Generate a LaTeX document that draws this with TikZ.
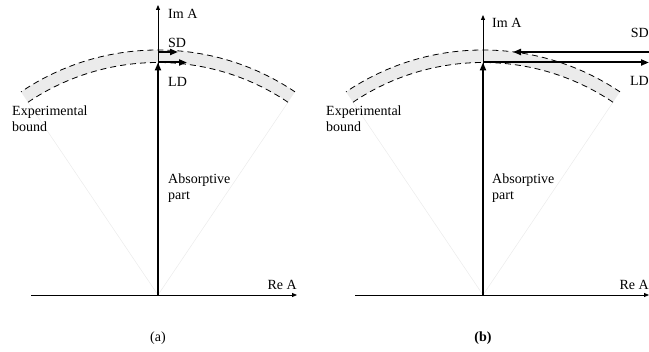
\documentclass[tikz,border=0pt]{standalone}
\usepackage{fontspec}
\setmainfont{Liberation Serif}
\usetikzlibrary{arrows.meta,calc}
\tikzset{
  axis/.style={line width=0.8pt,-{Triangle[length=5pt,width=4pt]}},
  thickarrow/.style={line width=2pt,-{Triangle[length=8pt,width=6pt]}},
  bound/.style={dashed,dash pattern=on 6pt off 4pt,line width=0.8pt},
  band/.style={fill=black!8},
  faint/.style={draw=black!8,line width=0.5pt},
  lbl/.style={font=\fontsize{14}{16}\selectfont,inner sep=0pt,align=left},
}
\begin{document}
\begin{tikzpicture}[x=1pt,y=1pt]
\useasboundingbox (0,0) rectangle (649,352);
\def\Ro{245}
\def\Ri{232.5}
% ---------------- panel (a) ----------------
\coordinate (Oa) at (158,57);
\coordinate (ImTopA) at (158,347);
\coordinate (ReLeftA) at (31,57);
\coordinate (ReRightA) at (297,57);
\coordinate (TopInA) at (158,289.5);
\coordinate (SDsA) at (158,300);
\coordinate (SDeA) at (178,300);
\coordinate (LDeA) at (187,289.5);
\coordinate (ILA) at ($(Oa)+(124:\Ri)$);
\coordinate (IRA) at ($(Oa)+(56:\Ri)$);
\fill[band] ($(Oa)+(56:\Ro)$) arc[start angle=56,end angle=124,radius=\Ro]
   -- (ILA) arc[start angle=124,end angle=56,radius=\Ri] -- cycle;
\draw[faint] (Oa) -- (ILA);
\draw[faint] (Oa) -- (IRA);
\draw[bound] ($(Oa)+(56:\Ro)$) arc[start angle=56,end angle=124,radius=\Ro];
\draw[bound] (IRA) arc[start angle=56,end angle=124,radius=\Ri];
\draw[axis] (ReLeftA) -- (ReRightA);
\draw[axis] (Oa) -- (ImTopA);
\draw[thickarrow] (Oa) -- (TopInA);
\draw[thickarrow] (SDsA) -- (SDeA);
\draw[thickarrow] (TopInA) -- (LDeA);
\node[lbl,anchor=west] (imA) at (168,338) {Im A};
\node[lbl,anchor=west] (sdA) at (168,309) {SD};
\node[lbl,anchor=west] (ldA) at (168,270) {LD};
\node[lbl,anchor=west] (expA) at (12,233) {Experimental\\bound};
\node[lbl,anchor=west] (absA) at (168,164) {Absorptive\\part};
\node[lbl,anchor=east] (reA) at (297,67) {Re A};
\node[lbl] (capA) at (158,14) {(a)};
% ---------------- panel (b) ----------------
\coordinate (Ob) at (483,57);
\coordinate (ImTopB) at (483,337);
\coordinate (ReLeftB) at (355,57);
\coordinate (ReRightB) at (649,57);
\coordinate (TopInB) at (483,289.5);
\coordinate (SDsB) at (649,300);
\coordinate (SDeB) at (513,300);
\coordinate (LDeB) at (649,289.5);
\coordinate (ILB) at ($(Ob)+(124:\Ri)$);
\coordinate (IRB) at ($(Ob)+(56:\Ri)$);
\fill[band] ($(Ob)+(56:\Ro)$) arc[start angle=56,end angle=124,radius=\Ro]
   -- (ILB) arc[start angle=124,end angle=56,radius=\Ri] -- cycle;
\draw[faint] (Ob) -- (ILB);
\draw[faint] (Ob) -- (IRB);
\draw[bound] ($(Ob)+(56:\Ro)$) arc[start angle=56,end angle=124,radius=\Ro];
\draw[bound] (IRB) arc[start angle=56,end angle=124,radius=\Ri];
\draw[axis] (ReLeftB) -- (ReRightB);
\draw[axis] (Ob) -- (ImTopB);
\draw[thickarrow] (Ob) -- (TopInB);
\draw[thickarrow] (SDsB) -- (SDeB);
\draw[thickarrow] (TopInB) -- (LDeB);
\node[lbl,anchor=west] (imB) at (492,329) {Im A};
\node[lbl,anchor=east] (sdB) at (649,319) {SD};
\node[lbl,anchor=east] (ldB) at (649,271) {LD};
\node[lbl,anchor=west] (expB) at (326,233) {Experimental\\bound};
\node[lbl,anchor=west] (absB) at (492,164) {Absorptive\\part};
\node[lbl,anchor=east] (reB) at (649,67) {Re A};
\node[lbl] (capB) at (483,14) {\bfseries (b)};
\end{tikzpicture}
\end{document}
